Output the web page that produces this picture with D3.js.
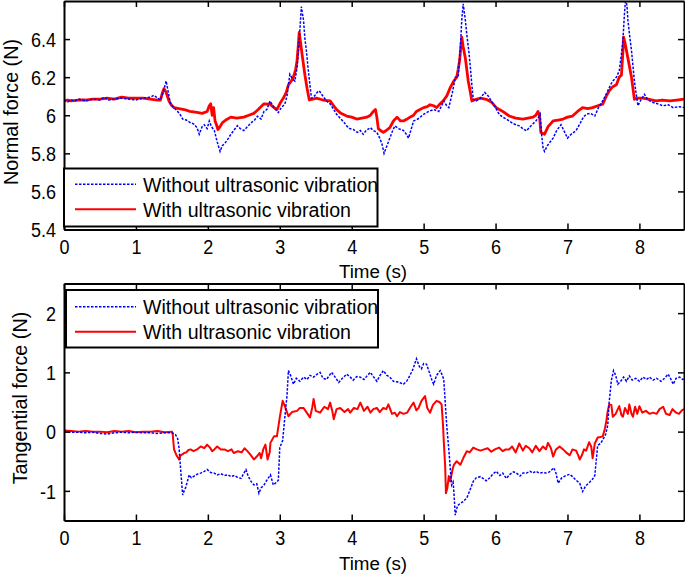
<!DOCTYPE html>
<html><head><meta charset="utf-8">
<script src="https://cdn.jsdelivr.net/npm/d3@7"></script>
<style>
html,body{margin:0;padding:0;background:#fff;}
svg{display:block;font-family:Arial,"Liberation Sans",sans-serif;}
</style></head>
<body>
<svg id="chart" width="685" height="574"></svg>
<script>
// ---------- data ----------
const timeTicks = [0,1,2,3,4,5,6,7,8];
const normalTicks = [5.4,5.6,5.8,6,6.2,6.4];
const tangentialTicks = [-1,0,1,2];
const seriesNames = ["Without ultrasonic vibration","With ultrasonic vibration"];

// Normal force, without ultrasonic vibration: [time (s), force (N)]
const normalWithout = [[0,6.08],[0.05,6.07],[0.1,6.08],[0.15,6.075],[0.2,6.085],[0.3,6.075],[0.4,6.085],[0.5,6.08],[0.56,6.095],[0.62,6.08],[0.7,6.085],[0.8,6.09],[0.9,6.085],[1.0,6.08],[1.1,6.09],[1.2,6.095],[1.25,6.105],[1.3,6.09],[1.34,6.08],[1.38,6.12],[1.42,6.18],[1.45,6.12],[1.48,6.06],[1.53,6.04],[1.58,6.02],[1.62,6.0],[1.65,5.98],[1.7,5.975],[1.76,5.96],[1.8,5.955],[1.85,5.935],[1.88,5.9],[1.92,5.94],[1.95,5.95],[1.99,5.93],[2.02,5.97],[2.05,5.94],[2.09,5.92],[2.13,5.86],[2.17,5.81],[2.2,5.84],[2.23,5.85],[2.27,5.87],[2.32,5.9],[2.36,5.92],[2.41,5.945],[2.45,5.93],[2.5,5.92],[2.55,5.94],[2.6,5.96],[2.65,5.975],[2.69,5.995],[2.74,5.98],[2.78,6.02],[2.82,6.03],[2.865,6.075],[2.92,6.04],[2.98,6.014],[3.02,6.04],[3.07,6.058],[3.1,6.1],[3.14,6.215],[3.18,6.19],[3.21,6.18],[3.24,6.25],[3.26,6.34],[3.28,6.45],[3.3,6.57],[3.33,6.5],[3.35,6.4],[3.37,6.34],[3.39,6.26],[3.41,6.19],[3.44,6.09],[3.48,6.1],[3.52,6.12],[3.55,6.128],[3.6,6.1],[3.65,6.075],[3.7,6.06],[3.75,6.03],[3.79,6.005],[3.85,5.98],[3.9,5.96],[3.93,5.944],[3.97,5.93],[4.02,5.926],[4.08,5.91],[4.12,5.92],[4.16,5.9],[4.2,5.92],[4.26,5.935],[4.3,5.92],[4.35,5.91],[4.39,5.88],[4.42,5.85],[4.45,5.8],[4.48,5.83],[4.53,5.88],[4.57,5.92],[4.6,5.944],[4.65,5.93],[4.72,5.92],[4.76,5.9],[4.79,5.88],[4.83,5.93],[4.86,5.97],[4.92,5.98],[5.0,6.005],[5.07,6.02],[5.14,6.03],[5.21,6.02],[5.25,6.05],[5.28,6.075],[5.32,6.05],[5.35,6.04],[5.4,6.12],[5.44,6.2],[5.48,6.2],[5.51,6.35],[5.53,6.5],[5.55,6.585],[5.58,6.5],[5.6,6.425],[5.63,6.33],[5.65,6.25],[5.67,6.16],[5.69,6.084],[5.73,6.075],[5.79,6.09],[5.85,6.12],[5.9,6.1],[5.94,6.075],[6.0,6.04],[6.05,6.005],[6.1,5.99],[6.15,5.98],[6.19,5.97],[6.25,5.955],[6.33,5.944],[6.38,5.93],[6.43,5.918],[6.48,5.94],[6.52,5.955],[6.56,5.97],[6.6,5.99],[6.62,6.005],[6.64,5.9],[6.66,5.83],[6.68,5.81],[6.72,5.84],[6.76,5.86],[6.8,5.88],[6.85,5.92],[6.91,5.95],[6.95,5.92],[7.0,5.88],[7.05,5.9],[7.12,5.92],[7.18,5.96],[7.22,5.99],[7.26,6.005],[7.32,6.01],[7.38,5.996],[7.43,6.04],[7.49,6.075],[7.55,6.12],[7.6,6.16],[7.63,6.18],[7.68,6.2],[7.72,6.233],[7.75,6.32],[7.77,6.39],[7.79,6.52],[7.81,6.62],[7.83,6.56],[7.84,6.5],[7.87,6.4],[7.89,6.34],[7.91,6.26],[7.93,6.18],[7.96,6.1],[7.98,6.05],[8.02,6.08],[8.07,6.11],[8.12,6.08],[8.19,6.067],[8.25,6.06],[8.33,6.05],[8.4,6.055],[8.47,6.04],[8.55,6.045],[8.62,6.04]];

// Normal force, with ultrasonic vibration
const normalWith = [[0,6.075],[0.05,6.08],[0.1,6.075],[0.2,6.08],[0.3,6.08],[0.4,6.085],[0.5,6.085],[0.6,6.09],[0.7,6.085],[0.8,6.095],[0.9,6.09],[1.0,6.09],[1.1,6.09],[1.2,6.085],[1.3,6.08],[1.34,6.08],[1.37,6.12],[1.39,6.14],[1.42,6.12],[1.46,6.075],[1.5,6.05],[1.53,6.04],[1.6,6.035],[1.67,6.03],[1.75,6.02],[1.85,6.015],[1.92,6.01],[1.99,6.02],[2.02,6.05],[2.04,6.06],[2.06,6.0],[2.08,6.04],[2.1,5.97],[2.12,5.95],[2.14,5.925],[2.17,5.94],[2.2,5.96],[2.25,5.975],[2.32,5.99],[2.4,5.985],[2.5,5.99],[2.57,6.0],[2.64,6.01],[2.7,6.03],[2.78,6.06],[2.865,6.058],[2.92,6.04],[2.96,6.03],[3.0,6.06],[3.05,6.09],[3.09,6.12],[3.12,6.16],[3.16,6.18],[3.19,6.2],[3.22,6.24],[3.24,6.286],[3.26,6.38],[3.27,6.435],[3.29,6.38],[3.31,6.32],[3.35,6.21],[3.38,6.14],[3.41,6.08],[3.46,6.085],[3.51,6.09],[3.6,6.08],[3.7,6.075],[3.75,6.05],[3.79,6.03],[3.85,6.01],[3.93,5.996],[4.0,5.99],[4.07,5.98],[4.14,5.985],[4.21,5.99],[4.26,6.0],[4.3,6.02],[4.33,6.03],[4.35,5.99],[4.37,5.93],[4.4,5.92],[4.44,5.91],[4.48,5.92],[4.53,5.935],[4.58,5.97],[4.63,5.99],[4.68,5.97],[4.72,5.97],[4.77,5.98],[4.81,5.99],[4.86,6.0],[4.9,6.02],[4.95,6.03],[5.0,6.04],[5.05,6.045],[5.09,6.055],[5.14,6.05],[5.18,6.04],[5.23,6.06],[5.27,6.075],[5.32,6.1],[5.37,6.145],[5.42,6.18],[5.46,6.2],[5.48,6.24],[5.5,6.286],[5.52,6.37],[5.53,6.41],[5.55,6.36],[5.58,6.3],[5.62,6.18],[5.65,6.12],[5.67,6.075],[5.73,6.084],[5.79,6.09],[5.87,6.084],[5.94,6.07],[6.01,6.04],[6.1,6.02],[6.19,5.996],[6.28,5.985],[6.38,5.98],[6.45,5.985],[6.52,5.99],[6.56,6.0],[6.59,6.02],[6.61,6.0],[6.63,5.91],[6.68,5.9],[6.73,5.94],[6.8,5.97],[6.87,5.975],[6.94,5.98],[7.0,5.99],[7.07,5.996],[7.14,6.02],[7.21,6.04],[7.28,6.035],[7.35,6.04],[7.42,6.05],[7.49,6.058],[7.54,6.1],[7.58,6.128],[7.63,6.15],[7.68,6.16],[7.72,6.2],[7.75,6.21],[7.77,6.33],[7.78,6.41],[7.8,6.38],[7.84,6.3],[7.89,6.2],[7.93,6.084],[7.98,6.09],[8.05,6.09],[8.12,6.085],[8.23,6.075],[8.32,6.08],[8.42,6.075],[8.52,6.08],[8.62,6.085]];

// Tangential force, without ultrasonic vibration
const tangentialWithout = [[0,0.0],[0.1,-0.01],[0.2,-0.01],[0.3,-0.02],[0.4,-0.01],[0.5,-0.03],[0.6,-0.04],[0.7,-0.02],[0.8,-0.01],[0.9,-0.02],[1.0,-0.01],[1.1,-0.02],[1.2,-0.02],[1.3,-0.03],[1.4,-0.02],[1.5,-0.02],[1.55,-0.05],[1.58,-0.12],[1.6,-0.28],[1.62,-0.61],[1.65,-1.07],[1.67,-1.0],[1.69,-0.95],[1.72,-0.82],[1.74,-0.73],[1.77,-0.78],[1.81,-0.75],[1.85,-0.72],[1.9,-0.7],[1.95,-0.67],[1.99,-0.64],[2.04,-0.69],[2.09,-0.7],[2.13,-0.73],[2.18,-0.71],[2.23,-0.74],[2.28,-0.73],[2.32,-0.76],[2.37,-0.74],[2.41,-0.77],[2.46,-0.79],[2.53,-0.64],[2.56,-0.75],[2.6,-0.84],[2.64,-0.9],[2.68,-0.88],[2.71,-1.04],[2.74,-0.95],[2.78,-0.9],[2.82,-0.82],[2.87,-0.73],[2.91,-0.9],[2.95,-0.86],[2.98,-0.82],[3.0,-0.27],[3.04,-0.15],[3.07,0.24],[3.1,0.6],[3.12,1.03],[3.15,0.95],[3.19,0.8],[3.23,0.9],[3.28,0.85],[3.33,0.92],[3.38,0.88],[3.42,0.95],[3.47,0.92],[3.52,0.97],[3.56,1.0],[3.6,0.9],[3.65,0.88],[3.69,0.95],[3.72,1.0],[3.77,0.92],[3.82,0.83],[3.87,0.9],[3.93,0.97],[3.98,0.92],[4.02,0.87],[4.07,0.93],[4.12,0.92],[4.17,0.88],[4.22,0.95],[4.26,1.0],[4.3,0.93],[4.35,0.85],[4.4,0.96],[4.44,1.03],[4.49,0.95],[4.53,0.92],[4.58,0.85],[4.63,0.84],[4.68,0.82],[4.72,0.8],[4.77,0.86],[4.81,0.95],[4.85,1.05],[4.9,1.23],[4.94,1.1],[4.97,1.06],[5.0,1.15],[5.04,1.14],[5.08,1.0],[5.12,0.85],[5.14,0.8],[5.18,0.95],[5.23,1.03],[5.26,0.95],[5.28,0.88],[5.3,0.5],[5.32,0.12],[5.35,-0.3],[5.37,-0.61],[5.39,-0.9],[5.41,-0.85],[5.42,-1.01],[5.44,-1.41],[5.47,-1.25],[5.51,-1.21],[5.55,-1.18],[5.6,-1.12],[5.64,-1.0],[5.69,-0.84],[5.73,-0.78],[5.79,-0.76],[5.84,-0.8],[5.87,-0.83],[5.92,-0.78],[5.96,-0.72],[6.01,-0.67],[6.06,-0.74],[6.1,-0.7],[6.15,-0.79],[6.2,-0.72],[6.25,-0.68],[6.29,-0.7],[6.34,-0.75],[6.38,-0.7],[6.43,-0.7],[6.48,-0.67],[6.52,-0.7],[6.56,-0.67],[6.61,-0.7],[6.66,-0.69],[6.7,-0.7],[6.75,-0.68],[6.81,-0.61],[6.84,-0.7],[6.87,-0.87],[6.92,-0.78],[6.98,-0.74],[7.03,-0.72],[7.07,-0.76],[7.12,-0.82],[7.17,-0.87],[7.21,-1.01],[7.25,-0.92],[7.31,-0.85],[7.35,-0.8],[7.38,-0.74],[7.42,-0.23],[7.46,-0.2],[7.49,-0.14],[7.53,-0.05],[7.56,0.11],[7.58,0.5],[7.61,0.86],[7.64,1.03],[7.67,0.95],[7.7,0.8],[7.74,0.85],[7.78,0.92],[7.82,0.85],[7.86,0.94],[7.9,0.87],[7.95,0.9],[8.0,0.85],[8.05,0.92],[8.1,0.88],[8.14,0.92],[8.19,0.87],[8.24,0.9],[8.3,0.85],[8.35,0.9],[8.4,0.97],[8.44,0.88],[8.47,0.8],[8.51,0.9],[8.56,0.92],[8.6,0.88],[8.62,0.89]];

// Tangential force, with ultrasonic vibration
const tangentialWith = [[0,0.02],[0.1,0.01],[0.2,0.0],[0.3,0.01],[0.4,0.0],[0.5,0.0],[0.6,-0.01],[0.7,0.01],[0.8,0.0],[0.9,0.01],[1.0,-0.01],[1.1,0.0],[1.2,0.0],[1.3,0.01],[1.4,-0.01],[1.5,0.0],[1.51,-0.03],[1.53,-0.3],[1.56,-0.39],[1.6,-0.47],[1.62,-0.4],[1.65,-0.38],[1.67,-0.36],[1.7,-0.35],[1.73,-0.31],[1.76,-0.3],[1.8,-0.33],[1.85,-0.3],[1.9,-0.25],[1.95,-0.28],[1.99,-0.22],[2.03,-0.27],[2.06,-0.33],[2.09,-0.3],[2.13,-0.25],[2.18,-0.3],[2.23,-0.3],[2.28,-0.33],[2.33,-0.3],[2.36,-0.36],[2.42,-0.33],[2.47,-0.35],[2.51,-0.28],[2.55,-0.33],[2.6,-0.4],[2.64,-0.47],[2.68,-0.42],[2.72,-0.36],[2.74,-0.45],[2.77,-0.3],[2.8,-0.22],[2.83,-0.47],[2.86,-0.35],[2.87,-0.19],[2.92,-0.08],[2.96,-0.08],[3.0,0.24],[3.04,0.52],[3.08,0.4],[3.12,0.26],[3.17,0.33],[3.24,0.35],[3.28,0.4],[3.33,0.4],[3.37,0.33],[3.42,0.24],[3.45,0.4],[3.47,0.55],[3.5,0.35],[3.56,0.32],[3.62,0.42],[3.67,0.38],[3.7,0.49],[3.73,0.35],[3.75,0.21],[3.79,0.38],[3.84,0.4],[3.9,0.33],[3.95,0.38],[3.98,0.32],[4.03,0.4],[4.08,0.38],[4.12,0.49],[4.17,0.35],[4.22,0.42],[4.26,0.32],[4.3,0.38],[4.35,0.4],[4.39,0.33],[4.44,0.4],[4.48,0.38],[4.51,0.46],[4.56,0.3],[4.6,0.32],[4.63,0.26],[4.67,0.33],[4.72,0.3],[4.77,0.32],[4.82,0.42],[4.86,0.49],[4.9,0.36],[4.93,0.4],[4.97,0.52],[5.02,0.6],[5.05,0.4],[5.09,0.32],[5.13,0.45],[5.18,0.52],[5.22,0.5],[5.25,0.46],[5.27,0.1],[5.28,-0.16],[5.3,-0.6],[5.31,-1.04],[5.33,-0.95],[5.35,-0.75],[5.37,-0.84],[5.4,-0.65],[5.42,-0.56],[5.46,-0.5],[5.51,-0.56],[5.55,-0.45],[5.6,-0.33],[5.64,-0.35],[5.69,-0.27],[5.74,-0.3],[5.79,-0.32],[5.84,-0.3],[5.89,-0.28],[5.94,-0.34],[5.99,-0.3],[6.05,-0.27],[6.1,-0.33],[6.14,-0.3],[6.19,-0.3],[6.23,-0.25],[6.28,-0.35],[6.33,-0.2],[6.38,-0.32],[6.42,-0.24],[6.47,-0.28],[6.51,-0.35],[6.56,-0.24],[6.61,-0.33],[6.66,-0.25],[6.7,-0.3],[6.73,-0.19],[6.77,-0.28],[6.8,-0.42],[6.84,-0.3],[6.89,-0.25],[6.94,-0.3],[6.98,-0.35],[7.03,-0.4],[7.07,-0.3],[7.12,-0.32],[7.15,-0.4],[7.17,-0.47],[7.2,-0.4],[7.23,-0.3],[7.26,-0.32],[7.3,-0.18],[7.33,-0.25],[7.35,-0.45],[7.38,-0.2],[7.42,-0.1],[7.46,-0.09],[7.49,-0.08],[7.52,0.05],[7.54,0.18],[7.56,0.35],[7.58,0.46],[7.61,0.45],[7.63,0.25],[7.67,0.3],[7.7,0.38],[7.72,0.43],[7.75,0.28],[7.77,0.25],[7.8,0.4],[7.84,0.3],[7.86,0.46],[7.89,0.3],[7.91,0.25],[7.94,0.42],[7.97,0.3],[8.0,0.43],[8.04,0.32],[8.09,0.35],[8.14,0.3],[8.19,0.32],[8.24,0.3],[8.28,0.38],[8.33,0.42],[8.37,0.3],[8.42,0.28],[8.46,0.38],[8.51,0.32],[8.55,0.3],[8.59,0.36],[8.62,0.38]];

// ---------- drawing ----------
const svg = d3.select("#chart");
const FONT = 18, SY = 1.1;
const BLUE = "#0000ff", RED = "#ff0000";

function panel(opts) {
  const {top, bottom, left, right, yDomain, yTicks, yLabel, yLabelX, yLabelY,
         xLabelY, without, withv, withWidth, legend, id} = opts;
  const x = d3.scaleLinear().domain([0, 8.62]).range([left, right]);
  const y = d3.scaleLinear().domain(yDomain).range([bottom, top]);
  const g = svg.append("g");

  g.append("clipPath").attr("id", id).append("rect")
    .attr("x", left).attr("y", top).attr("width", right - left).attr("height", bottom - top);

  const line = d3.line().x(d => x(d[0])).y(d => y(d[1]));
  const plot = g.append("g").attr("clip-path", `url(#${id})`);
  plot.append("path").datum(withv).attr("d", line)
    .attr("fill", "none").attr("stroke", RED).attr("stroke-width", withWidth)
    .attr("stroke-linejoin", "round");
  plot.append("path").datum(without).attr("d", line)
    .attr("fill", "none").attr("stroke", BLUE).attr("stroke-width", 1.5)
    .attr("stroke-dasharray", "2.5,1.5");

  const fmt = d => String(d);
  const styleAxis = sel => {
    sel.selectAll("path.domain").attr("stroke", "#000").attr("stroke-width", 2);
    sel.selectAll(".tick line").attr("stroke", "#000").attr("stroke-width", 1.5);
    sel.selectAll("text").attr("fill", "#000").style("font-size", FONT + "px")
      .style("font-family", 'Arial,"Liberation Sans",sans-serif');
  };

  // bottom axis
  const ax = g.append("g").attr("transform", `translate(0,${bottom})`)
    .call(d3.axisBottom(x).tickValues(timeTicks).tickFormat(fmt).tickSize(-6).tickSizeOuter(0));
  styleAxis(ax);
  ax.selectAll("text").attr("y", null).attr("dy", null)
    .attr("transform", `translate(0,24.5) scale(1,${SY})`);
  // top axis (ticks only)
  const axT = g.append("g").attr("transform", `translate(0,${top})`)
    .call(d3.axisTop(x).tickValues(timeTicks).tickFormat("").tickSize(-6).tickSizeOuter(0));
  styleAxis(axT);
  // left axis
  const ay = g.append("g").attr("transform", `translate(${left},0)`)
    .call(d3.axisLeft(y).tickValues(yTicks).tickFormat(fmt).tickSize(-6).tickSizeOuter(0));
  styleAxis(ay);
  ay.selectAll("text").attr("x", null).attr("dy", null)
    .attr("transform", `translate(-8,7.3) scale(1,${SY})`);
  // right axis (ticks only)
  const ayR = g.append("g").attr("transform", `translate(${right},0)`)
    .call(d3.axisRight(y).tickValues(yTicks).tickFormat("").tickSize(-6).tickSizeOuter(0));
  styleAxis(ayR);

  // axis labels
  g.append("text").text("Time (s)")
    .attr("text-anchor", "middle").attr("font-size", 18.8)
    .attr("transform", `translate(${(left + right) / 2 - 1},${xLabelY})`);
  g.append("text").text(yLabel)
    .attr("text-anchor", "middle").attr("font-size", 19.8)
    .attr("transform", `translate(${yLabelX},${yLabelY}) rotate(-90)`);

  // legend
  const L = legend;
  const lg = g.append("g");
  lg.append("rect").attr("x", L.x0).attr("y", L.y0)
    .attr("width", L.x1 - L.x0).attr("height", L.y1 - L.y0)
    .attr("fill", "#fff").attr("stroke", "#000").attr("stroke-width", 2);
  const rows = [
    {name: seriesNames[0], color: BLUE, w: 1.5, dash: "2.5,1.5", y: L.rowY[0]},
    {name: seriesNames[1], color: RED, w: 2, dash: null, y: L.rowY[1]}
  ];
  rows.forEach(r => {
    lg.append("line").attr("x1", 75).attr("x2", 136).attr("y1", r.y).attr("y2", r.y)
      .attr("stroke", r.color).attr("stroke-width", r.w)
      .attr("stroke-dasharray", r.dash);
    lg.append("text").text(r.name).attr("font-size", 19.6)
      .attr("x", 143).attr("y", r.y + 7.7);
  });
}

panel({
  id: "clipTop", top: 1, bottom: 229.5, left: 64, right: 684,
  yDomain: [5.4, 6.6], yTicks: normalTicks, yLabel: "Normal force (N)",
  yLabelX: 18, yLabelY: 112, xLabelY: 277.5,
  without: normalWithout, withv: normalWith, withWidth: 2.8,
  legend: {x0: 64, y0: 168.5, x1: 377.5, y1: 226.5, rowY: [184.3, 209.3]}
});
panel({
  id: "clipBot", top: 283.5, bottom: 520.5, left: 64, right: 684,
  yDomain: [-1.5, 2.5], yTicks: tangentialTicks, yLabel: "Tangential force (N)",
  yLabelX: 27, yLabelY: 398, xLabelY: 570,
  without: tangentialWithout, withv: tangentialWith, withWidth: 2,
  legend: {x0: 66, y0: 290, x1: 378, y1: 347.5, rowY: [306.7, 331.7]}
});
</script>
</body></html>
